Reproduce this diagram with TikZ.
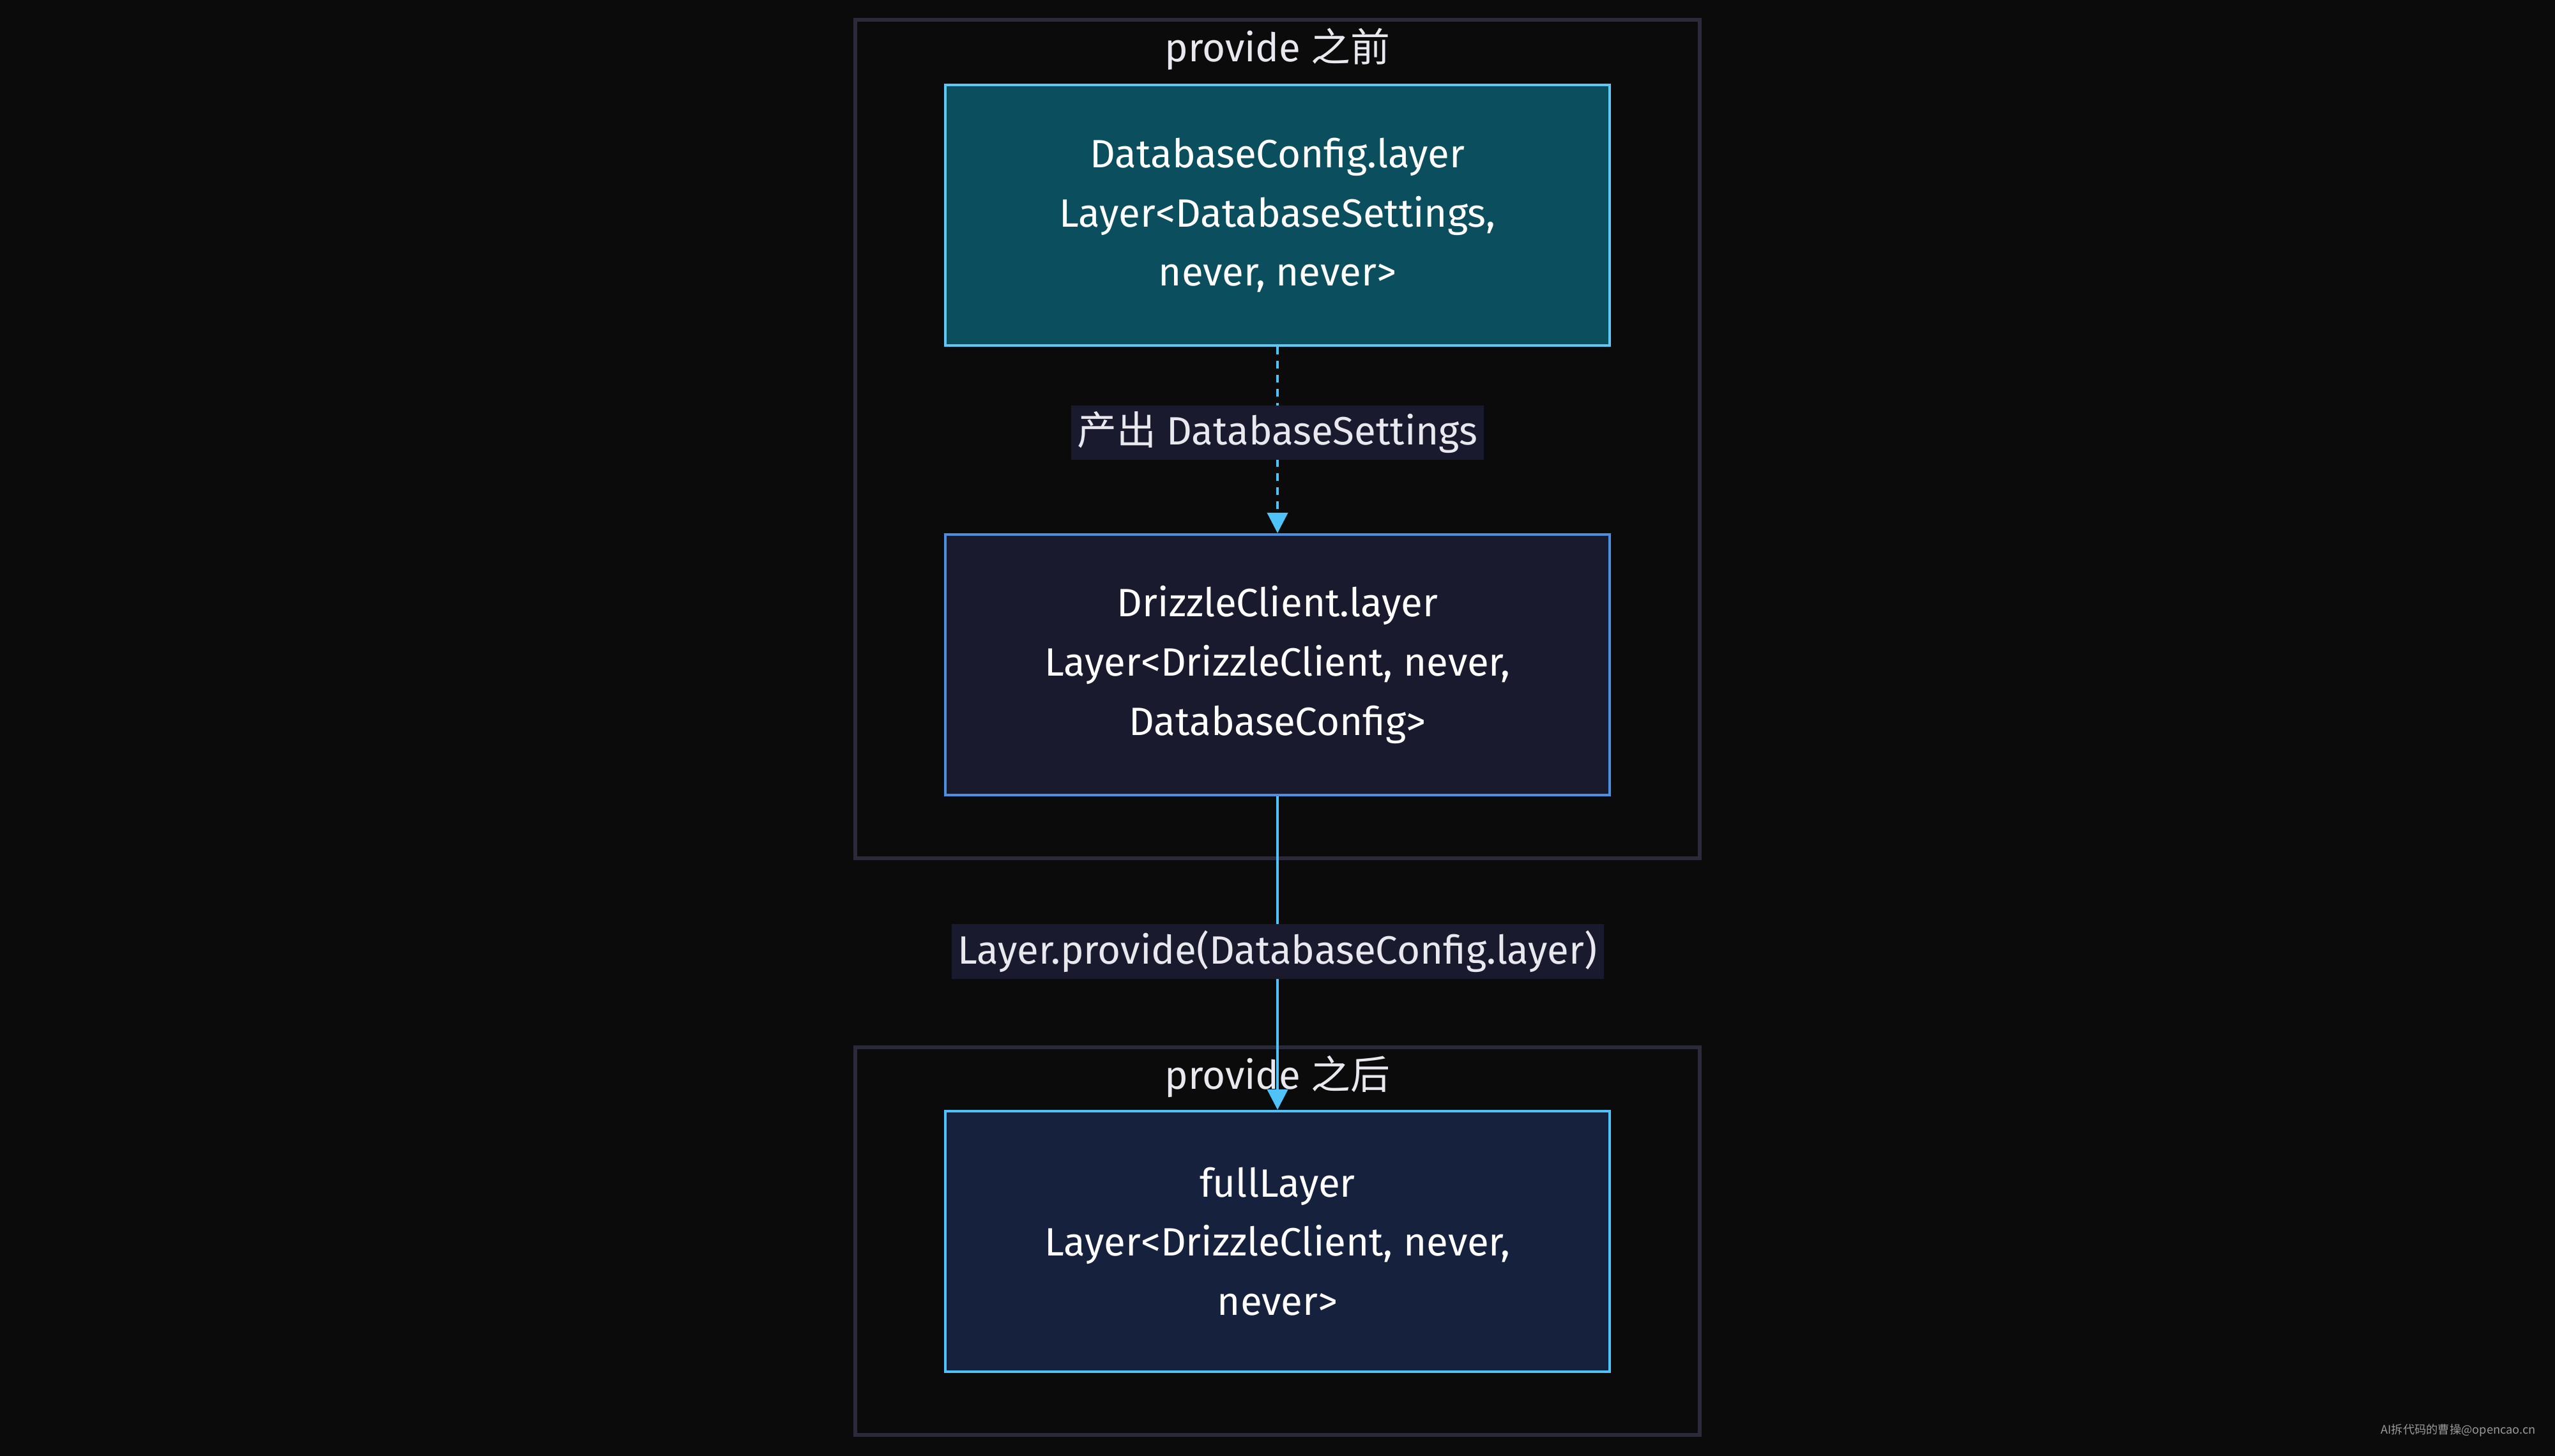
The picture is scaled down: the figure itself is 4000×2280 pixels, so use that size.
\documentclass[tikz,border=0pt]{standalone}
\usepackage{fontspec}
\setmainfont{Fira Sans}
\newfontfamily\cjk{Noto Sans CJK SC}
\usetikzlibrary{arrows.meta}
\definecolor{bgc}{HTML}{0B0B0C}
\definecolor{clus}{HTML}{2A2A3A}
\definecolor{fa}{HTML}{0B4F5F}
\definecolor{sa}{HTML}{5BC8F5}
\definecolor{fb}{HTML}{1A1A2E}
\definecolor{sb}{HTML}{4A90E2}
\definecolor{fc}{HTML}{16213E}
\definecolor{sc}{HTML}{4FC3F7}
\definecolor{txt}{HTML}{E8E8EE}
\tikzset{
  clusterbox/.style={draw=clus,line width=4pt},
  nodebox/.style={minimum width=26cm,minimum height=10.2cm,line width=3pt,align=center,text=white,font=\fontsize{44}{66}\selectfont},
  lbl/.style={fill=fb,text=txt,font=\fontsize{44}{52}\selectfont,inner sep=0.25cm},
  ttl/.style={text=txt,font=\fontsize{44}{52}\selectfont},
  conn/.style={draw=sc,line width=3pt,-{Triangle[length=0.8cm,width=0.8cm]}}
}
\begin{document}
\begin{tikzpicture}[x=0.025cm,y=-0.025cm]
\fill[bgc] (0,0) rectangle (4000,2280);
\useasboundingbox (0,0) rectangle (4000,2280);
\draw[clusterbox] (1339,31) rectangle (2661,1344);
\draw[clusterbox] (1339,1640) rectangle (2661,2247);
\node[ttl] (t1) at (2000,77) {provide {\cjk 之前}};
\node[ttl] (t2) at (2000,1686) {provide {\cjk 之后}};
\node[nodebox,fill=fa,draw=sa] (a) at (2000,337) {DatabaseConfig.layer\\Layer<DatabaseSettings,\\never, never>};
\node[nodebox,fill=fb,draw=sb] (b) at (2000,1041) {DrizzleClient.layer\\Layer<DrizzleClient, never,\\DatabaseConfig>};
\node[nodebox,fill=fc,draw=sc] (c) at (2000,1944) {fullLayer\\Layer<DrizzleClient, never,\\never>};
\draw[conn,dashed,dash pattern=on 0.3cm off 0.25cm] (a) -- (b) node[lbl,midway,pos=0.46] (l1) {{\cjk 产出} DatabaseSettings};
\draw[conn] (b) -- (c) node[lbl,pos=0.495] (l2) {Layer.provide(DatabaseConfig.layer)};
\node[text=gray!80,font=\cjk\fontsize{13}{15}\selectfont,anchor=east] (wm) at (3975,2240) {AI拆代码的曹操@opencao.cn};
\end{tikzpicture}
\end{document}
